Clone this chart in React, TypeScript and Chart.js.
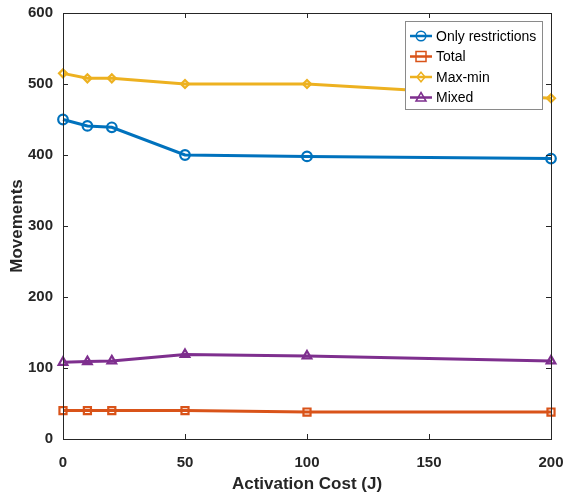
import React, { useEffect, useRef } from "react";
import { Chart, registerables } from "chart.js";

Chart.register(...registerables);

const xValues = [0, 10, 20, 50, 100, 200];
const onlyRestrictions = [450, 441, 439, 400, 398, 395];
const total = [40, 40, 40, 40, 38, 38];
const maxMin = [515, 508, 508, 500, 500, 480];
const mixed = [108, 109, 110, 119, 117, 110];
const seriesNames = ["Only restrictions", "Total", "Max-min", "Mixed"];
const xTicks = [0, 50, 100, 150, 200];
const yTicks = [0, 100, 200, 300, 400, 500, 600];

const FONT = "'Liberation Sans', Arial, sans-serif";
const AX = "#262626";

const boxPlugin = {
  id: "boxTicks",
  afterDatasetsDraw(chart: any) {
    const { ctx, chartArea: a, scales } = chart;
    ctx.save();
    ctx.strokeStyle = AX;
    ctx.lineWidth = 1;
    ctx.strokeRect(a.left + 0.5, a.top + 0.5, a.right - a.left, a.bottom - a.top);
    const L = 5;
    for (const v of xTicks) {
      const px = Math.round(scales.x.getPixelForValue(v)) + 0.5;
      ctx.beginPath();
      ctx.moveTo(px, a.bottom);
      ctx.lineTo(px, a.bottom - L);
      ctx.moveTo(px, a.top);
      ctx.lineTo(px, a.top + L);
      ctx.stroke();
    }
    for (const v of yTicks) {
      const py = Math.round(scales.y.getPixelForValue(v)) + 0.5;
      ctx.beginPath();
      ctx.moveTo(a.left, py);
      ctx.lineTo(a.left + L, py);
      ctx.moveTo(a.right, py);
      ctx.lineTo(a.right - L, py);
      ctx.stroke();
    }
    // legend
    const lx = a.right - 146;
    const ly = a.top + 8;
    const lw = 137;
    const lh = 88;
    ctx.fillStyle = "#ffffff";
    ctx.fillRect(lx, ly, lw, lh);
    ctx.strokeStyle = "#8a8a8a";
    ctx.strokeRect(lx + 0.5, ly + 0.5, lw, lh);
    ctx.font = `14px ${FONT}`;
    ctx.textBaseline = "middle";
    chart.data.datasets.forEach((ds: any, i: number) => {
      const y = ly + 15 + i * 20.5;
      ctx.strokeStyle = ds.borderColor;
      ctx.lineWidth = 2.5;
      ctx.beginPath();
      ctx.moveTo(lx + 5, y);
      ctx.lineTo(lx + 27, y);
      ctx.stroke();
      ctx.lineWidth = 1.5;
      const cx = lx + 16;
      const r = ds.pointRadius;
      ctx.beginPath();
      if (ds.pointStyle === "circle") {
        ctx.arc(cx, y, r, 0, Math.PI * 2);
      } else if (ds.pointStyle === "rect") {
        ctx.rect(cx - r, y - r, 2 * r, 2 * r);
      } else if (ds.pointStyle === "rectRot") {
        ctx.moveTo(cx, y - r * 1.2);
        ctx.lineTo(cx + r, y);
        ctx.lineTo(cx, y + r * 1.2);
        ctx.lineTo(cx - r, y);
        ctx.closePath();
      } else {
        ctx.moveTo(cx, y - r);
        ctx.lineTo(cx + r, y + r * 0.7);
        ctx.lineTo(cx - r, y + r * 0.7);
        ctx.closePath();
      }
      ctx.stroke();
      ctx.fillStyle = "#000";
      ctx.fillText(ds.label, lx + 31, y + 1);
    });
    ctx.restore();
  },
};

export default function App() {
  const ref = useRef<HTMLCanvasElement>(null);
  useEffect(() => {
    document.body.style.margin = "0";
    const mk = (label: string, data: number[], color: string, style: string, r: number) => ({
      label,
      data: xValues.map((x, i) => ({ x, y: data[i] })),
      borderColor: color,
      backgroundColor: "rgba(0,0,0,0)",
      borderWidth: 3,
      pointStyle: style,
      pointRadius: r,
      pointBorderWidth: 2.2,
      pointBackgroundColor: "rgba(0,0,0,0)",
      pointBorderColor: color,
      clip: false as any,
      tension: 0,
    });
    const zeroPad = (s: any) => {
      s.paddingLeft = 0;
      s.paddingRight = 0;
      s.paddingTop = 0;
      s.paddingBottom = 0;
    };
    const chart = new Chart(ref.current!, {
      type: "line",
      data: {
        datasets: [
          mk(seriesNames[0], onlyRestrictions, "#0072BD", "circle", 4.8),
          mk(seriesNames[1], total, "#D95319", "rect", 5),
          mk(seriesNames[2], maxMin, "#EDB120", "rectRot", 4),
          mk(seriesNames[3], mixed, "#7E2F8E", "triangle", 5),
        ] as any,
      },
      options: {
        animation: false,
        responsive: false,
        layout: { padding: { left: 0, top: 13, right: 15, bottom: 0 } },
        plugins: { legend: { display: false }, tooltip: { enabled: false } },
        scales: {
          x: {
            type: "linear",
            min: 0,
            max: 200,
            afterBuildTicks: (s: any) => {
              s.ticks = xTicks.map((v) => ({ value: v }));
            },
            afterFit: (s: any) => {
              s.height = 56;
              zeroPad(s);
            },
            grid: { display: false, drawTicks: false },
            border: { display: false },
            ticks: { color: AX, padding: 15, font: { family: FONT, size: 15, weight: "bold" } },
            title: {
              display: true,
              text: "Activation Cost (J)",
              color: AX,
              font: { family: FONT, size: 17, weight: "bold" },
              padding: { top: 2, bottom: 0 },
            },
          },
          y: {
            type: "linear",
            min: 0,
            max: 600,
            afterBuildTicks: (s: any) => {
              s.ticks = yTicks.map((v) => ({ value: v }));
            },
            afterFit: (s: any) => {
              s.width = 63;
              zeroPad(s);
            },
            grid: { display: false, drawTicks: false },
            border: { display: false },
            ticks: { color: AX, padding: 10, font: { family: FONT, size: 15, weight: "bold" } },
            title: {
              display: true,
              text: "Movements",
              color: AX,
              font: { family: FONT, size: 17, weight: "bold" },
              padding: { top: 7, bottom: 4 },
            },
          },
        },
      } as any,
      plugins: [boxPlugin],
    });
    return () => chart.destroy();
  }, []);
  return (
    <div style={{ position: "absolute", left: 0, top: 0, width: 566, height: 495 }}>
      <canvas ref={ref} width={566} height={495} style={{ width: 566, height: 495 }} />
    </div>
  );
}
